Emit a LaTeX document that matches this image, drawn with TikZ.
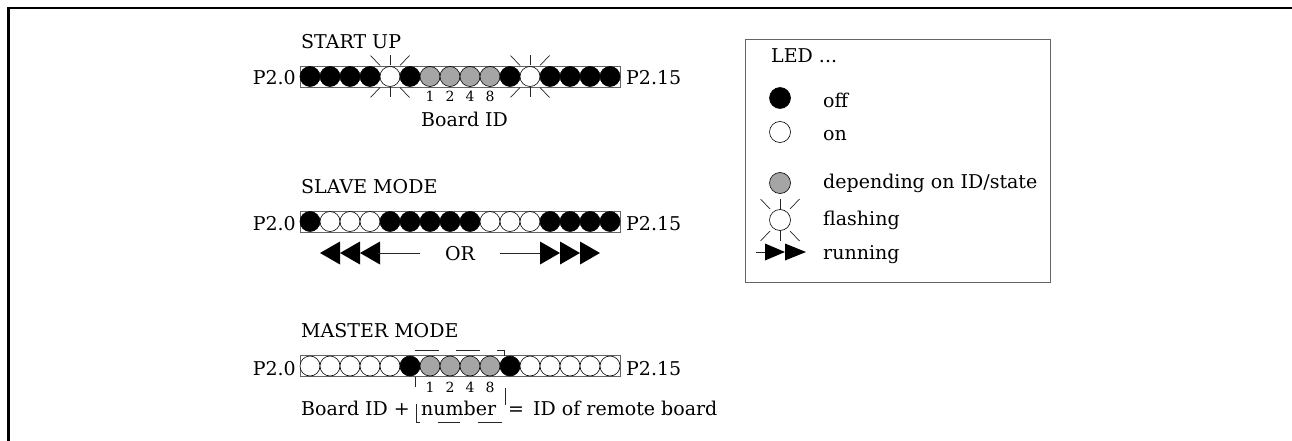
\documentclass[tikz,border=0pt]{standalone}
\usepackage{fontspec}
\setmainfont{DejaVu Serif}
\definecolor{ledk}{RGB}{0,0,0}
\definecolor{ledw}{RGB}{255,255,255}
\definecolor{ledg}{RGB}{165,165,165}
\definecolor{edge}{RGB}{100,100,100}
\tikzset{
  led/.style={circle, draw=black, line width=0.6pt, inner sep=0pt, minimum size=20pt, fill=led#1},
  bigled/.style={circle, draw=black, line width=0.6pt, inner sep=0pt, minimum size=21pt, fill=led#1},
  strip/.style={draw=edge, line width=0.8pt, fill=white, inner sep=0pt, minimum width=320pt, minimum height=21pt},
  txt/.style={inner sep=0pt, anchor=base west, font=\fontsize{19}{23}\selectfont},
  digit/.style={inner sep=0pt, anchor=base, font=\fontsize{14}{17}\selectfont},
  thin/.style={line width=0.7pt, draw=black!85},
  flashrays/.pic={
    \draw[thin] (0,-11) -- (0,-21);
    \draw[thin] (0,11) -- (0,21);
    \draw[thin] (-10,-11) -- (-19.5,-21);
    \draw[thin] (10,-11) -- (19.5,-21);
    \draw[thin] (-10,11) -- (-19.5,21);
    \draw[thin] (10,11) -- (19.5,21);
  }
}
\begin{document}
\begin{tikzpicture}[x=1pt, y=-1pt]
\useasboundingbox (0,0) rectangle (1292,441);
% outer frame (top and left edges)
\draw[line width=2.3pt] (8.5,441) -- (8.5,8) -- (1292,8);

% ---------- START UP ----------
\node[txt] (tstart) at (301,49) {START UP};
\node[strip] (s1) at (460,76.5) {};
\foreach \c [count=\i from 0] in {k,k,k,k,w,k,g,g,g,g,k,w,k,k,k,k}
  \node[led=\c] (a\i) at ({310+20*\i},76.5) {};
\pic at (a4) {flashrays};
\pic at (a11) {flashrays};
\node[txt, anchor=base east] (p1l) at (296,85) {P2.0};
\node[txt] (p1r) at (626,85) {P2.15};
\node[digit] (d1a) at (430,102) {1};
\node[digit] (d1b) at (450,102) {2};
\node[digit] (d1c) at (470,102) {4};
\node[digit] (d1d) at (490,102) {8};
\node[txt] (bid) at (421,126) {Board ID};

% ---------- SLAVE MODE ----------
\node[txt] (tslave) at (301,193) {SLAVE MODE};
\node[strip] (s2) at (460,221.5) {};
\foreach \c [count=\i from 0] in {k,w,w,w,k,k,k,k,k,w,w,w,k,k,k,k}
  \node[led=\c] (b\i) at ({310+20*\i},221.5) {};
\node[txt, anchor=base east] (p2l) at (296,230) {P2.0};
\node[txt] (p2r) at (626,230) {P2.15};
% running arrows
\fill (320,253) -- (340,241.5) -- (340,264.5) -- cycle;
\fill (340,253) -- (360,241.5) -- (360,264.5) -- cycle;
\fill (360,253) -- (380,241.5) -- (380,264.5) -- cycle;
\draw[thin] (378,253) -- (420,253);
\node[txt, anchor=base] (tor) at (460,260) {OR};
\draw[thin] (500,253) -- (542,253);
\fill (600,253) -- (580,241.5) -- (580,264.5) -- cycle;
\fill (580,253) -- (560,241.5) -- (560,264.5) -- cycle;
\fill (560,253) -- (540,241.5) -- (540,264.5) -- cycle;

% ---------- MASTER MODE ----------
\node[txt] (tmaster) at (301,337) {MASTER MODE};
\node[strip] (s3) at (460,366) {};
\foreach \c [count=\i from 0] in {w,w,w,w,w,k,g,g,g,g,k,w,w,w,w,w}
  \node[led=\c] (c\i) at ({310+20*\i},366) {};
\node[txt, anchor=base east] (p3l) at (296,375) {P2.0};
\node[txt] (p3r) at (626,375) {P2.15};
\draw[thin] (415,350) -- (439,350);
\draw[thin] (456,350) -- (480,350);
\draw[thin] (497,350) -- (504.5,350) -- (504.5,356);
\draw[thin] (415.5,376.5) -- (415.5,387);
\node[digit] (d3a) at (430,392) {1};
\node[digit] (d3b) at (450,392) {2};
\node[digit] (d3c) at (470,392) {4};
\node[digit] (d3d) at (490,392) {8};
\draw[thin] (505,388) -- (505,405);
\node[txt] (mb1) at (301,415) {Board ID +};
\draw[thin] (420,422) -- (416,422) -- (416,404);
\node[txt] (mb2) at (421,415) {number};
\draw[thin] (438,422) -- (460,422);
\draw[thin] (478,422) -- (502,422);
\node[txt] (mb3) at (508,415) {=};
\node[txt] (mb4) at (533,415) {ID of remote board};

% ---------- Legend ----------
\node[draw=edge, line width=0.9pt, inner sep=0pt, minimum width=305pt, minimum height=243pt] (legend) at (897.5,160.5) {};
\node[txt] (lt) at (771,63) {LED ...};
\node[bigled=k] (loff) at (780,98) {};
\node[txt] (ltoff) at (823,107) {off};
\node[bigled=w] (lon) at (780,132) {};
\node[txt] (lton) at (823,140) {on};
\node[bigled=g] (ldep) at (780,183) {};
\node[txt] (ltdep) at (823,188) {depending on ID/state};
\node[bigled=w] (lfl) at (780,220) {};
\pic at (lfl) {flashrays};
\node[txt] (ltfl) at (823,225) {flashing};
\draw[thin] (756,252) -- (768,252);
\fill (785,252) -- (765,243.5) -- (765,260.5) -- cycle;
\fill (806,252) -- (785,243.5) -- (785,260.5) -- cycle;
\node[txt] (ltrun) at (823,259) {running};
\end{tikzpicture}
\end{document}
